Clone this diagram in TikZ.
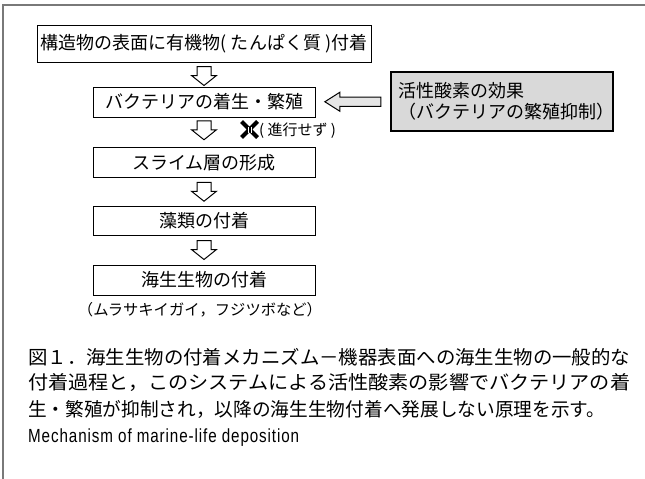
\documentclass[tikz,border=0pt]{standalone}
\usepackage{fontspec}
\setmainfont{Liberation Sans}
\newfontfamily\jp{Noto Sans CJK JP}
\newfontfamily\narrowsans[FakeStretch=0.8,LetterSpace=4.7]{Liberation Sans}
\usetikzlibrary{calc}
\begin{document}
\begin{tikzpicture}[x=1pt,y=-1pt,
  flowbox/.style={draw, line width=1pt, minimum width=222pt, minimum height=30pt, inner sep=0pt,
    font=\jp\fontsize{18}{20}\selectfont},
  effbox/.style={draw, line width=1.6pt, fill=gray!30, text width=208pt, inner xsep=7pt, inner ysep=0pt,
    minimum height=59pt, align=left, font=\jp\fontsize{18}{21}\selectfont},
  note/.style={inner sep=0pt, font=\jp\fontsize{15}{17}\selectfont},
  capline/.style={anchor=west, inner sep=0pt, font=\jp\fontsize{19}{21}\selectfont},
  darrow/.pic={\draw[line width=1pt, fill=white] (-7,-9.5) -- (7,-9.5) -- (7,-0.5) -- (12.5,-0.5) -- (0,9.5) -- (-12.5,-0.5) -- (-7,-0.5) -- cycle;},
  larrow/.pic={\draw[line width=1pt, fill=gray!20] (28,-4.7) -- (-13,-4.7) -- (-13,-9.5) -- (-28,0) -- (-13,9.5) -- (-13,4.7) -- (28,4.7) -- cycle;}
]
\useasboundingbox (0,0) rectangle (645,479);
% outer frame (top and left only)
\draw[line width=1.5pt, gray!95!black] (3,479) -- (3,4.8) -- (645,4.8);

% flow boxes
\node[flowbox, minimum width=334pt, minimum height=37pt] (b1) at (204,43.5) {構造物の表面に有機物( たんぱく質 )付着};
\node[flowbox] (b2) at (204,102) {バクテリアの着生・繁殖};
\node[flowbox] (b3) at (204,162.5) {スライム層の形成};
\node[flowbox, minimum height=29pt] (b4) at (204,220.5) {藻類の付着};
\node[flowbox] (b5) at (204,280) {海生生物の付着};

% hollow arrows between boxes
\pic at ($(b1.south)!0.5!(b2.north)+(0,1.5)$) {darrow};
\pic at ($(b2.south)!0.5!(b3.north)+(0,-2)$) {darrow};
\pic at ($(b3.south)!0.5!(b4.north)$) {darrow};
\pic at ($(b4.south)!0.5!(b5.north)$) {darrow};

% effect box and arrow
\node[effbox] (rb) at (502,101.5) {活性酸素の効果\\（バクテリアの繁殖抑制）};
\pic at ($(b2.east)!0.5!(rb.west)$) {larrow};

% cross mark and note
\coordinate (xm) at (249.5,129.5);
\draw[line width=4.2pt] ($(xm)+(-8,-8)$) -- ($(xm)+(8,8)$) ($(xm)+(8,-8)$) -- ($(xm)+(-8,8)$);
\draw[white, line width=0.5pt] ($(xm)+(-1.5,-3)$) -- ($(xm)+(-1.5,3)$) ($(xm)+(1.5,-3)$) -- ($(xm)+(1.5,3)$);
\node[note, anchor=west] (nt) at (259,130.5) {( 進行せず )};

% examples under last box
\node[note, font=\jp\fontsize{15.3}{17}\selectfont] (ex) at (200,310) {（ムラサキイガイ，フジツボなど）};

% caption
\node[capline] (c1) at (28,357) {\resizebox{602pt}{\height}{図１．海生生物の付着メカニズム－機器表面への海生生物の一般的な}};
\node[capline] (c2) at (28,383) {\resizebox{602pt}{\height}{付着過程と，このシステムによる活性酸素の影響でバクテリアの着}};
\node[capline] (c3) at (28,409) {\resizebox{577pt}{\height}{生・繁殖が抑制され，以降の海生生物付着へ発展しない原理を示す。}};
\node[anchor=west, inner sep=0pt, font=\narrowsans\fontsize{19}{21}\selectfont] (en) at (28,438) {Mechanism of marine-life deposition};
\end{tikzpicture}
\end{document}
